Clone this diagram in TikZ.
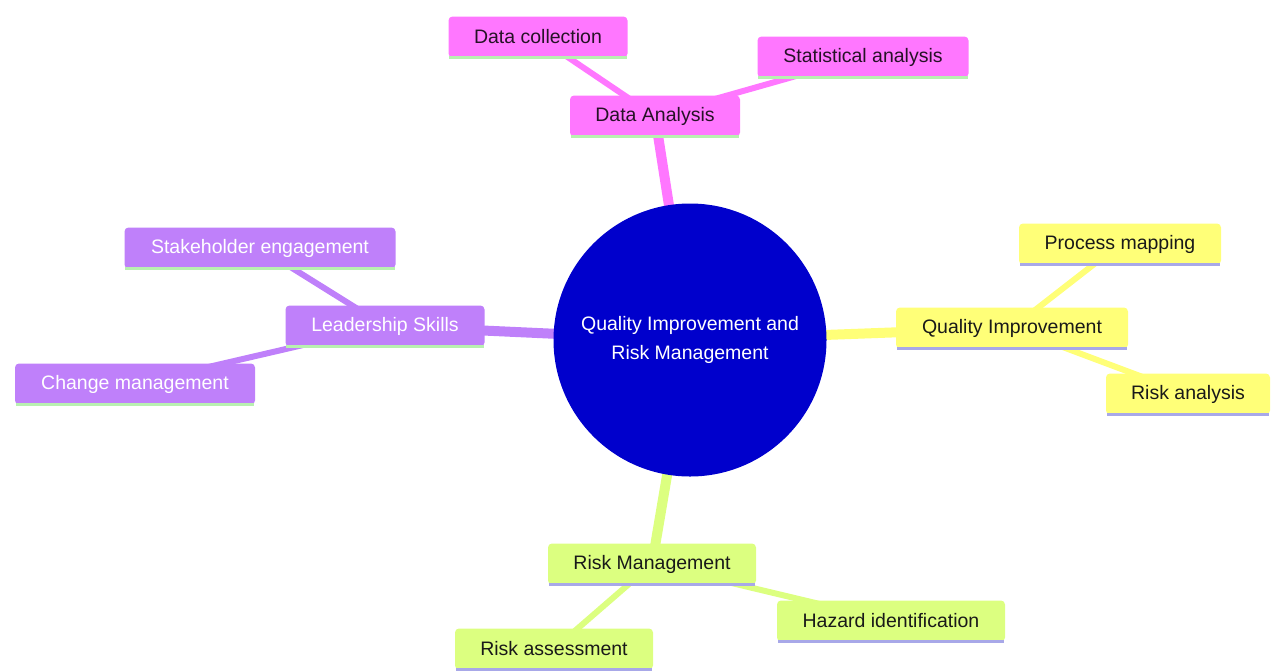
\documentclass[tikz,border=0pt]{standalone}
\usepackage{fontspec}
\setmainfont{Liberation Sans}
\usetikzlibrary{backgrounds}
\definecolor{rootblue}{HTML}{0000CC}
\definecolor{pinkbr}{HTML}{FF77FF}
\definecolor{purplebr}{HTML}{BF80FA}
\definecolor{yellowbr}{HTML}{FFFF78}
\definecolor{limebr}{HTML}{DCFF80}
\definecolor{greenline}{HTML}{B8F0B0}
\definecolor{lavline}{HTML}{A8A8E8}
\begin{document}
\begin{tikzpicture}[x=1pt,y=-1pt,
    box/.style={rectangle, rounded corners=4pt, inner sep=0pt, minimum height=41pt,
      font=\fontsize{19.5}{22}\selectfont},
    pinkbox/.style={box, fill=pinkbr, text=black!85!pinkbr},
    purplebox/.style={box, fill=purplebr, text=white},
    yellowbox/.style={box, fill=yellowbr, text=black!90},
    limebox/.style={box, fill=limebr, text=black!90},
    link/.style={line width=6pt},
    mainlink/.style={line width=10pt},
    underline/.style={line width=3pt}]
    \useasboundingbox (0,0) rectangle (1271,670);

    % root
    \node[circle, fill=rootblue, minimum size=273pt, inner sep=0pt, text=white,
      align=center, font=\fontsize{19.5}{29}\selectfont] (root) at (690,340)
      {Quality Improvement and\\Risk Management};

    % branches
    \node[pinkbox, minimum width=170pt] (da) at (655,116) {Data Analysis};
    \node[pinkbox, minimum width=179pt] (dc) at (538,37) {Data collection};
    \node[pinkbox, minimum width=211pt] (sa) at (863,57) {Statistical analysis};

    \node[yellowbox, minimum width=232pt] (qi) at (1012,328) {Quality Improvement};
    \node[yellowbox, minimum width=202pt] (pm) at (1120,244) {Process mapping};
    \node[yellowbox, minimum width=164pt] (ra) at (1188,394) {Risk analysis};

    \node[limebox, minimum width=208pt] (rm) at (652,564) {Risk Management};
    \node[limebox, minimum width=228pt] (hi) at (891,621) {Hazard identification};
    \node[limebox, minimum width=198pt] (rs) at (554,649) {Risk assessment};

    \node[purplebox, minimum width=199pt] (ls) at (385,326) {Leadership Skills};
    \node[purplebox, minimum width=271pt] (se) at (260,248) {Stakeholder engagement};
    \node[purplebox, minimum width=240pt] (cm) at (135,384) {Change management};

    % links, behind the boxes
    \begin{scope}[on background layer]
      \draw[mainlink, pinkbr] (root.center) -- (da.center);
      \draw[link, pinkbr] (da.center) -- (dc.center);
      \draw[link, pinkbr] (da.center) -- (sa.center);
      \draw[mainlink, yellowbr] (root.center) -- (qi.center);
      \draw[link, yellowbr] (qi.center) -- (pm.center);
      \draw[link, yellowbr] (qi.center) -- (ra.center);
      \draw[mainlink, limebr] (root.center) -- (rm.center);
      \draw[link, limebr] (rm.center) -- (hi.center);
      \draw[link, limebr] (rm.center) -- (rs.center);
      \draw[mainlink, purplebr] (root.center) -- (ls.center);
      \draw[link, purplebr] (ls.center) -- (se.center);
      \draw[link, purplebr] (ls.center) -- (cm.center);
    \end{scope}

    % underlines
    \foreach \n in {da, dc, sa, ls, se, cm}
      \draw[underline, greenline] ([xshift=1pt]\n.south west) -- ([xshift=-1pt]\n.south east);
    \foreach \n in {qi, pm, ra, rm, hi, rs}
      \draw[underline, lavline] ([xshift=1pt]\n.south west) -- ([xshift=-1pt]\n.south east);
\end{tikzpicture}
\end{document}
